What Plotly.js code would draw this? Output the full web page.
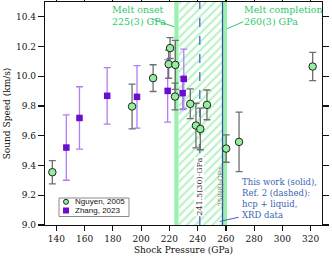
<!DOCTYPE html>
<html><head><meta charset="utf-8">
<script src="https://cdn.plot.ly/plotly-3.0.1.min.js"></script>
<style>html,body{margin:0;padding:0;background:#fff}#chart{width:332px;height:262px}</style>
</head><body><div id="chart"></div>
<script>
// Nguyen, 2005
const nguyenP = [137.2, 193.6, 208.5, 220.5, 219.5, 224.2, 224.0, 234.8, 238.8, 241.9, 246.6, 260.2, 269.3, 321.4];
const nguyenV = [9.355, 9.797, 9.988, 10.19, 10.082, 10.077, 9.864, 9.815, 9.669, 9.646, 9.808, 9.514, 9.559, 10.066];
const nguyenE = [0.078, 0.15, 0.09, 0.07, 0.095, 0.165, 0.09, 0.10, 0.15, 0.14, 0.10, 0.092, 0.20, 0.095];
// Zhang, 2023
const zhangP = [147.1, 156.4, 176.0, 197.1, 218.8, 230.2, 229.4];
const zhangV = [9.521, 9.72, 9.869, 9.862, 9.902, 9.983, 9.887];
const zhangE = [0.22, 0.21, 0.19, 0.21, 0.21, 0.20, 0.11];
// melt bands and XRD lines (GPa)
const meltOnsetBand = [223.5, 226.5];
const meltEndBand = [257.2, 260.8];
const xrdDashed = 241.5;
const xrdSolid = 257.6;
const xRange = [132, 328];
const yRange = [9.0, 10.5];

const serif = "DejaVu Serif";
const green = "#2fc86c";
const blue = "#3a64b4";

const traces = [
  { // hatched mixed-phase region
    x: [meltOnsetBand[1], meltEndBand[0], meltEndBand[0], meltOnsetBand[1]],
    y: [yRange[0], yRange[0], yRange[1], yRange[1]],
    mode: "lines", fill: "toself", line: {width: 0},
    fillcolor: "rgba(0,0,0,0)",
    fillpattern: {shape: "/", fgcolor: "#b6f2c4", bgcolor: "rgba(0,0,0,0)", size: 6, solidity: 0.35},
    hoverinfo: "skip", showlegend: false
  },
  { // dashed line (Ref. 2)
    x: [xrdDashed, xrdDashed], y: yRange, mode: "lines",
    line: {color: "#5b7fc4", width: 1.5, dash: "dash"}, showlegend: false, hoverinfo: "skip"
  },
  { // solid line (this work)
    x: [xrdSolid, xrdSolid], y: yRange, mode: "lines",
    line: {color: "#2f4fa6", width: 1.2}, showlegend: false, hoverinfo: "skip"
  },
  {
    name: "Zhang, 2023", x: zhangP, y: zhangV, mode: "markers", type: "scatter",
    marker: {symbol: "square", size: 6.5, color: "#6a0dd0", line: {width: 0}},
    error_y: {type: "data", array: zhangE, visible: true, color: "#b07ef3", thickness: 1.3, width: 3.5},
    showlegend: false
  },
  {
    name: "Nguyen, 2005", x: nguyenP, y: nguyenV, mode: "markers", type: "scatter",
    marker: {symbol: "circle", size: 7.5, color: "#93ef9c", line: {width: 1, color: "#222"}},
    error_y: {type: "data", array: nguyenE, visible: true, color: "#6f6f6f", thickness: 1.3, width: 3.5},
    showlegend: false
  }
];

function px2paper(px, py) { return [(px - 45) / 277, (225 - py) / 223]; }

const shapes = [
  {type: "rect", xref: "x", yref: "paper", x0: meltOnsetBand[0], x1: meltOnsetBand[1], y0: 0, y1: 1,
   fillcolor: "#8ff0a6", line: {width: 0}, layer: "below", opacity: 0.9},
  {type: "rect", xref: "x", yref: "paper", x0: meltEndBand[0], x1: meltEndBand[1], y0: 0, y1: 1,
   fillcolor: "#8ff0a6", line: {width: 0}, layer: "below", opacity: 0.9},
  // leader lines
  {type: "line", xref: "x", yref: "y", x0: 207.3, y0: 10.387, x1: 223.5, y1: 10.333, line: {color: green, width: 1}},
  {type: "line", xref: "x", yref: "y", x0: 272.3, y0: 10.367, x1: 260.8, y1: 10.32, line: {color: green, width: 1}},
  {type: "line", xref: "x", yref: "y", x0: 269.0, y0: 9.052, x1: 255.6, y1: 9.024, line: {color: blue, width: 1}},
  // manual legend box
  {type: "rect", xref: "paper", yref: "paper",
   x0: px2paper(59,0)[0], x1: px2paper(129,0)[0], y0: px2paper(0,216.5)[1], y1: px2paper(0,198)[1],
   fillcolor: "#fff", line: {color: "#8a8a8a", width: 1}, layer: "above"},
  {type: "circle", xref: "paper", yref: "paper",
   x0: px2paper(63.5,0)[0], x1: px2paper(68.5,0)[0], y0: px2paper(0,204.3)[1], y1: px2paper(0,199.3)[1],
   fillcolor: "#93ef9c", line: {color: "#222", width: 1}, layer: "above"},
  {type: "rect", xref: "paper", yref: "paper",
   x0: px2paper(63,0)[0], x1: px2paper(69,0)[0], y0: px2paper(0,213.5)[1], y1: px2paper(0,207.5)[1],
   fillcolor: "#6a0dd0", line: {width: 0}, layer: "above"}
];

const annotations = [
  {xref: "x", yref: "y", x: 178.3, y: 10.41, xanchor: "left", yanchor: "middle", align: "left", showarrow: false,
   text: "Melt onset<br>225(3) GPa", font: {family: serif, size: 9.5, color: green}},
  {xref: "x", yref: "y", x: 271.7, y: 10.41, xanchor: "left", yanchor: "middle", align: "left", showarrow: false,
   text: "Melt completion<br>260(3) GPa", font: {family: serif, size: 9.5, color: green}},
  {xref: "x", yref: "y", x: 270.0, y: 9.175, xanchor: "left", yanchor: "middle", align: "left", showarrow: false,
   text: "This work (solid),<br>Ref. 2 (dashed):<br>hcp + liquid,<br>XRD data", font: {family: serif, size: 8.5, color: blue}},
  {xref: "x", yref: "y", x: xrdDashed, y: 9.256, textangle: -90, showarrow: false, bgcolor: "#fff", borderpad: 0,
   text: "241.5(30)·GPa", font: {family: serif, size: 8, color: "#333"}},
  {xref: "x", yref: "y", x: 256.2, y: 9.256, textangle: -90, showarrow: false,
   text: "258(8)·GPa", font: {family: serif, size: 7, color: "#777"}},
  {xref: "paper", yref: "paper", x: px2paper(73,0)[0], y: px2paper(0,201.8)[1], xanchor: "left", yanchor: "middle",
   showarrow: false, text: "Nguyen, 2005", font: {family: "Liberation Sans, Arial, sans-serif", size: 8, color: "#111"}},
  {xref: "paper", yref: "paper", x: px2paper(73,0)[0], y: px2paper(0,210.8)[1], xanchor: "left", yanchor: "middle",
   showarrow: false, text: "Zhang, 2023", font: {family: "Liberation Sans, Arial, sans-serif", size: 8, color: "#111"}}
];

const layout = {
  width: 332, height: 262,
  margin: {l: 45, r: 10, t: 2, b: 37},
  paper_bgcolor: "#fff", plot_bgcolor: "#fff",
  showlegend: false,
  font: {family: serif, size: 9.5, color: "#111"},
  xaxis: {
    range: xRange, dtick: 20, tick0: 0, showgrid: false, zeroline: false,
    showline: true, linecolor: "#111", linewidth: 1.2, mirror: "ticks",
    ticks: "outside", ticklen: 5, tickwidth: 1.2, tickcolor: "#111",
    tickfont: {family: serif, size: 9},
    title: {text: "Shock Pressure (GPa)", font: {family: serif, size: 9}, standoff: 3}
  },
  yaxis: {
    range: yRange, dtick: 0.2, tick0: 0, tickformat: ".1f", showgrid: false, zeroline: false,
    showline: true, linecolor: "#111", linewidth: 1.2, mirror: "ticks",
    ticks: "outside", ticklen: 6, tickwidth: 1.2, tickcolor: "#111",
    tickfont: {family: serif, size: 9},
    title: {text: "Sound Speed (km/s)", font: {family: serif, size: 9}, standoff: 3}
  },
  shapes: shapes,
  annotations: annotations
};

Plotly.newPlot("chart", traces, layout, {displayModeBar: false, staticPlot: true});
</script></body></html>
